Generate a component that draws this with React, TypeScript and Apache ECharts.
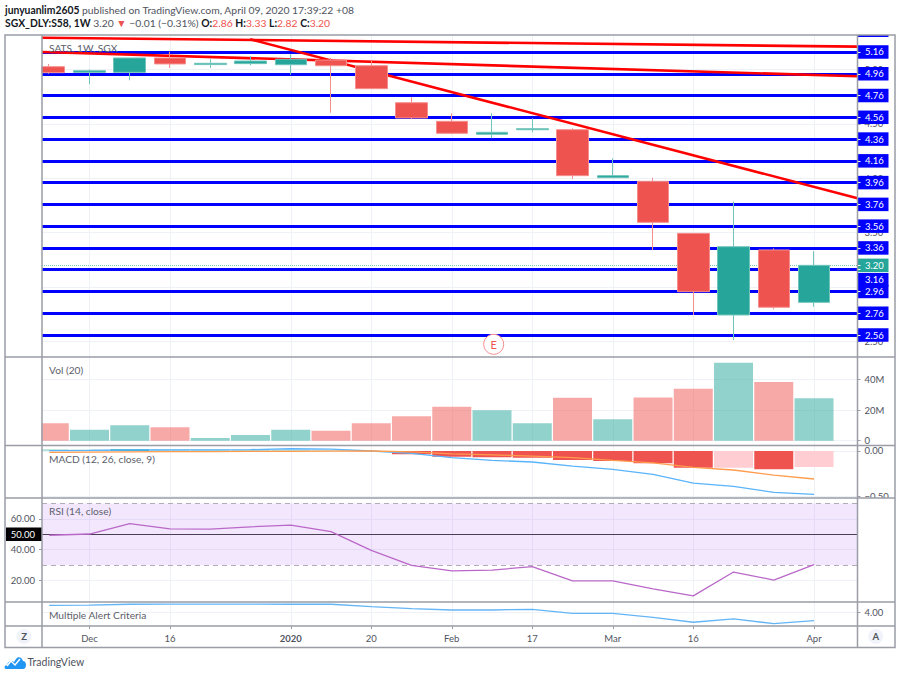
import React, { useEffect, useRef } from "react";
import * as echarts from "echarts";

const xLabels: Record<number, string> = { 1: "Dec", 3: "16", 6: "2020", 8: "20", 10: "Feb", 12: "17", 14: "Mar", 16: "16", 19: "Apr" };
const xTickIdx = [1, 3, 6, 8, 10, 12, 14, 16, 19];

const opens = [5.025, 4.973, 4.973, 5.105, 5.044, 5.053, 5.043, 5.086, 5.034, 4.694, 4.523, 4.404, 4.446, 4.446, 4.005, 3.972, 3.494, 2.744, 3.341, 2.86];
const closes = [4.97, 4.988, 5.105, 5.05, 5.056, 5.077, 5.093, 5.034, 4.823, 4.554, 4.413, 4.422, 4.455, 4.024, 4.024, 3.595, 2.958, 3.371, 2.815, 3.2];
const lows = [4.96, 4.863, 4.9, 5.013, 5.013, 5.038, 4.951, 4.602, 4.823, 4.542, 4.404, 4.367, 4.422, 3.993, 4.005, 3.341, 2.744, 2.514, 2.796, 2.82];
const highs = [5.05, 5.0, 5.105, 5.163, 5.093, 5.123, 5.139, 5.105, 5.08, 4.744, 4.597, 4.597, 4.551, 4.459, 4.183, 4.005, 3.494, 3.785, 3.356, 3.33];

const volumes = [11.4, 7.2, 10.1, 8.8, 1.8, 3.7, 7.2, 6.6, 11.4, 16, 22.3, 19.9, 11.4, 28.2, 14, 28.4, 34.1, 51.1, 38.5, 27.8];
const macdLine = [0.005, 0.006, 0.011, 0.012, 0.013, 0.015, 0.025, 0.02, 0, -0.026, -0.074, -0.104, -0.122, -0.167, -0.204, -0.26, -0.356, -0.393, -0.459, -0.482];
const signalLine = [-0.015, -0.012, -0.01, -0.008, -0.006, -0.005, -0.004, -0.002, 0, -0.01, -0.033, -0.044, -0.056, -0.074, -0.104, -0.133, -0.181, -0.211, -0.267, -0.311];
const histogram = [0.02, 0.017, 0.02, 0.018, 0.016, 0.014, 0.012, 0.008, -0.01, -0.035, -0.063, -0.07, -0.074, -0.1, -0.111, -0.137, -0.185, -0.185, -0.204, -0.178];
const histColors = ["#b2dfdb", "#b2dfdb", "#26a69a", "#b2dfdb", "#b2dfdb", "#b2dfdb", "#b2dfdb", "#b2dfdb", "#ffcdd2", "#ef5350", "#ef5350", "#ef5350", "#ef5350", "#ef5350", "#ef5350", "#ef5350", "#ef5350", "#ffcdd2", "#ef5350", "#ffcdd2"];
const rsi = [49.4, 50.2, 56.9, 53.6, 53.4, 54.9, 56, 51.7, 39.6, 29.9, 26.2, 26.8, 29, 19.7, 19.7, 14.5, 10, 25.5, 20.3, 30.3];
const alertCriteria = [4.85, 4.88, 4.97, 4.98, 4.98, 4.98, 4.97, 4.97, 4.69, 4.46, 4.31, 4.31, 4.39, 3.93, 3.93, 3.47, 2.9, 3.28, 2.74, 3.08];

const levels = [5.16, 4.96, 4.76, 4.56, 4.36, 4.16, 3.96, 3.76, 3.56, 3.36, 3.16, 2.96, 2.76, 2.56];
const priceTicks = [2.5, 3, 3.5, 4, 4.5, 5];
const trendA = [[-0.18, 5.291], [20.08, 5.209]];
const trendB = [[-0.18, 5.16], [20.08, 4.937]];
const trendC = [[4.99, 5.277], [20.08, 3.816]];
const lastPrice = 3.2;

const FONT = "Lato, 'Open Sans', sans-serif";
const GRID = "#eef2f7";
const FRAME = "#9a9da6";
const TXT = "#50535e";
const TICK_SIZE = 9.5;
const HEAD_SIZE = 10.35;
const L = 42, R = 857.5;
const panes = [[35, 322], [357, 88.5], [445.5, 52.5], [498, 104], [602, 24]];
const xMin = -0.18, xMax = 20.08;
const idx = (a: number[]) => a.map((v, i) => [i, v]);

const logoPath = "M2 12 C0 12 0 8 3 8 C4 4 8 3 10 5 L12 2 C14 -1 18 0 19 4 C23 4 23 12 19 12 Z";
echarts.graphic.registerShape("tvlogo", echarts.graphic.extendPath(logoPath, {}) as any);

export default function App() {
  const ref = useRef<HTMLDivElement>(null);
  useEffect(() => {
    if (!ref.current) return;
    const chart = echarts.init(ref.current, undefined, { renderer: "svg" });

    const xAxis = panes.map((_, i) => ({
      type: "value", gridIndex: i, min: xMin, max: xMax,
      axisLine: { show: false, onZero: false },
      axisTick: { show: i === 4, customValues: xTickIdx, length: 3, lineStyle: { color: FRAME } },
      splitLine: { show: true, lineStyle: { color: GRID, width: 1 } },
      axisLabel: {
        show: i === 4, customValues: xTickIdx, color: TXT, fontFamily: FONT, fontSize: TICK_SIZE, margin: 7,
        formatter: (v: number) => (xLabels[v] === "2020" ? "{b|2020}" : xLabels[v] || ""),
        rich: { b: { fontWeight: "bold", color: TXT, fontFamily: FONT, fontSize: TICK_SIZE } },
      },
    }));
    const yBase = (grid: number, position: string, min: number, max: number, ticks: number[], fmt: (v: number) => string) => ({
      type: "value", gridIndex: grid, position, min, max,
      axisLine: { show: false, onZero: false },
      axisTick: { show: true, customValues: ticks, length: 3, lineStyle: { color: FRAME } },
      axisLabel: { customValues: ticks, color: TXT, fontFamily: FONT, fontSize: TICK_SIZE, margin: 7, formatter: fmt },
      splitLine: { show: true, lineStyle: { color: GRID, width: 1 } },
    });
    const yAxis = [
      yBase(0, "right", 2.358, 5.316, priceTicks, (v) => v.toFixed(2)),
      yBase(1, "right", -3.15, 54.9, [0, 20, 40], (v) => (v ? v + "M" : "0")),
      yBase(2, "right", -0.522, 0.061, [-0.5, 0], (v) => (v < 0 ? "\u2212" + Math.abs(v).toFixed(2) : v.toFixed(2))),
      yBase(3, "left", 6.04, 73.6, [20, 40, 60], (v) => v.toFixed(2)),
      yBase(4, "right", 2.47, 5.23, [4], (v) => v.toFixed(2)),
      {
        type: "value", gridIndex: 0, position: "right", min: 2.358, max: 5.316, z: 5,
        axisLine: { show: false, onZero: false },
        axisTick: { show: true, customValues: [...levels, lastPrice], length: 3, lineStyle: { color: "#fff" } },
        axisLabel: { show: false }, splitLine: { show: false },
      },
    ];

    const levelLabel = { show: true, position: "end", distance: 0, color: "#fff", fontFamily: FONT, fontSize: TICK_SIZE, backgroundColor: "#0000ff", padding: [0, 0, 0, 7.5], width: 23.5, height: 13.5, lineHeight: 13.5, align: "left" };

    const trend = (d: number[][], w: number) => ({
      type: "line", xAxisIndex: 0, yAxisIndex: 0, data: d, symbol: "none", z: 1.5, silent: true,
      lineStyle: { color: "#ff0000", width: w },
    });

    const option: any = {
      animation: false,
      backgroundColor: "#fff",
      grid: panes.map(([top, height]) => ({ left: L, top, width: R - L, height, containLabel: false })),
      xAxis, yAxis,
      series: [
        {
          type: "line", xAxisIndex: 0, yAxisIndex: 0, data: [], symbol: "none", silent: true, z: 1,
          markLine: {
            silent: true, symbol: "none", z: 1, animation: false,
            precision: 2,
            lineStyle: { color: "#0000ff", width: 3, type: "solid" },
            data: [
              ...levels.map((v) => ({
                yAxis: v,
                label: { ...levelLabel, formatter: v.toFixed(2), offset: v === 3.16 ? [0, 10] : [0, 0] },
              })),
              {
                yAxis: lastPrice,
                lineStyle: { color: "#7fcac2", width: 1, type: "dotted" },
                label: { ...levelLabel, formatter: lastPrice.toFixed(2), backgroundColor: "#26a69a" },
              },
            ],
          },
        },
        trend(trendA, 2.6),
        trend(trendB, 2.6),
        trend(trendC, 2.6),
        {
          type: "candlestick", xAxisIndex: 0, yAxisIndex: 0, barWidth: 32, z: 3,
          itemStyle: { color: "#26a69a", color0: "#ef5350", borderColor: "#70c4bb", borderColor0: "#f58f8d", borderWidth: 1 },
          data: opens.map((o, i) => [i, o, closes[i], lows[i], highs[i]]),
        },
        {
          type: "bar", xAxisIndex: 1, yAxisIndex: 1, barWidth: 39, z: 3,
          data: volumes.map((v, i) => ({ value: [i, v], itemStyle: { color: closes[i] >= opens[i] ? "rgba(38,166,154,0.5)" : "rgba(239,83,80,0.5)" } })),
        },
        {
          type: "bar", xAxisIndex: 2, yAxisIndex: 2, barWidth: 39, z: 3,
          data: histogram.map((v, i) => ({ value: [i, v], itemStyle: { color: histColors[i] } })),
        },
        { type: "line", xAxisIndex: 2, yAxisIndex: 2, data: idx(macdLine), symbol: "none", z: 4, lineStyle: { color: "#5ab4fb", width: 1.3 } },
        { type: "line", xAxisIndex: 2, yAxisIndex: 2, data: idx(signalLine), symbol: "none", z: 4, lineStyle: { color: "#ff9c4d", width: 1.3 } },
        {
          type: "line", xAxisIndex: 3, yAxisIndex: 3, data: idx(rsi), symbol: "none", z: 4,
          lineStyle: { color: "#ba68c8", width: 1.3 },
          markArea: { silent: true, z: 1, itemStyle: { color: "rgba(155,60,235,0.12)" }, data: [[{ yAxis: 30 }, { yAxis: 70 }]] },
          markLine: {
            silent: true, symbol: "none", z: 2,
            data: [
              { yAxis: 70, lineStyle: { color: "#b3abb8", type: [5, 4], width: 1 }, label: { show: false } },
              { yAxis: 30, lineStyle: { color: "#b3abb8", type: [5, 4], width: 1 }, label: { show: false } },
              {
                yAxis: 50, lineStyle: { color: "#4a3f55", type: "solid", width: 1.2 },
                label: { show: true, position: "start", distance: 0, formatter: "50.00", color: "#fff", fontFamily: FONT, fontSize: TICK_SIZE, backgroundColor: "#000", padding: [0, 7, 0, 0], width: 29, height: 13.5, lineHeight: 13.5, align: "right" },
              },
            ],
          },
        },
        { type: "line", xAxisIndex: 4, yAxisIndex: 4, data: idx(alertCriteria), symbol: "none", z: 4, lineStyle: { color: "#64b5f6", width: 1.3 } },
      ],
      graphic: [
        { type: "rect", z: 50, shape: { x: 6, y: 36, width: 35.5, height: 461 }, style: { fill: "#fff" } },
        { type: "rect", z: 50, shape: { x: 858, y: 498, width: 36, height: 6 }, style: { fill: "#fff" } },
        { type: "rect", z: 50, shape: { x: 858, y: 35, width: 30.5, height: 2 }, style: { fill: "#0000ff" } },
        { type: "rect", z: 60, shape: { x: 5, y: 35, width: 890, height: 612.5 }, style: { fill: "none", stroke: FRAME, lineWidth: 1.5 } },
        ...panes.slice(1).map(([top]) => ({ type: "line", z: 60, shape: { x1: 5, y1: top, x2: 895, y2: top }, style: { stroke: FRAME, lineWidth: 1.5 } })),
        { type: "line", z: 60, shape: { x1: 5, y1: 626, x2: 895, y2: 626 }, style: { stroke: FRAME, lineWidth: 1.5 } },
        { type: "line", z: 60, shape: { x1: L, y1: 35, x2: L, y2: 647 }, style: { stroke: FRAME, lineWidth: 1.5 } },
        { type: "line", z: 60, shape: { x1: R, y1: 35, x2: R, y2: 647 }, style: { stroke: FRAME, lineWidth: 1.5 } },
        {
          type: "text", z: 70, x: 5, y: 10,
          style: {
            text: "{b|junyuanlim2605} published on TradingView.com, April 09, 2020 17:39:22 +08",
            fill: "#50535e", font: `${HEAD_SIZE}px ${FONT}`, verticalAlign: "middle",
            rich: { b: { fill: "#131722", font: `bold ${HEAD_SIZE}px ${FONT}` } },
          },
        },
        {
          type: "text", z: 70, x: 5, y: 23,
          style: {
            text: "{b|SGX_DLY:S58, 1W} 3.20 {r|\u25BC} \u22120.01 (\u22120.31%) {b|O:}{r|2.86} {b|H:}{r|3.33} {b|L:}{r|2.82} {b|C:}{r|3.20}",
            fill: "#50535e", font: `${HEAD_SIZE}px ${FONT}`, verticalAlign: "middle",
            rich: {
              b: { fill: "#131722", font: `bold ${HEAD_SIZE}px ${FONT}` },
              r: { fill: "#ef5350", font: `${HEAD_SIZE}px ${FONT}` },
            },
          },
        },
        ...([["SATS, 1W, SGX", 48], ["Vol (20)", 370], ["MACD (12, 26, close, 9)", 459], ["RSI (14, close)", 511], ["Multiple Alert Criteria", 615]] as [string, number][]).map(([t, y]) => ({
          type: "text", z: 20, x: 49, y, style: { text: t, fill: "#5d606b", font: `10.2px ${FONT}`, verticalAlign: "middle" },
        })),
        { type: "circle", z: 20, shape: { cx: 493.7, cy: 344.3, r: 10 }, style: { fill: "#fff", stroke: "#f88d90", lineWidth: 1 } },
        { type: "text", z: 21, x: 493.7, y: 344.3, style: { text: "E", fill: "#ef5350", font: `11px ${FONT}`, align: "center", verticalAlign: "middle" } },
        { type: "circle", z: 20, shape: { cx: 24, cy: 636.5, r: 7.5 }, style: { fill: "#f0f3fa" } },
        { type: "text", z: 21, x: 24, y: 636.5, style: { text: "Z", fill: "#50535e", font: `bold 9.5px ${FONT}`, align: "center", verticalAlign: "middle" } },
        { type: "circle", z: 20, shape: { cx: 875.7, cy: 636.5, r: 7.5 }, style: { fill: "#f0f3fa" } },
        { type: "text", z: 21, x: 875.7, y: 636.5, style: { text: "A", fill: "#50535e", font: `bold 9.5px ${FONT}`, align: "center", verticalAlign: "middle" } },
        { type: "text", z: 21, x: 27.5, y: 662, style: { text: "TradingView", fill: "#50535e", font: `10.5px ${FONT}`, verticalAlign: "middle" } },
        { type: "tvlogo", z: 21, x: 4, y: 657, style: { fill: "#2196f3" } },
        { type: "polyline", z: 22, shape: { points: [[7, 666], [11, 661], [15, 665], [20, 659]] }, style: { stroke: "#fff", fill: "none", lineWidth: 1.5 } },
      ],
    };
    chart.setOption(option);
    return () => chart.dispose();
  }, []);
  return <div ref={ref} style={{ position: "absolute", left: 0, top: 0, width: 900, height: 677 }} />;
}
